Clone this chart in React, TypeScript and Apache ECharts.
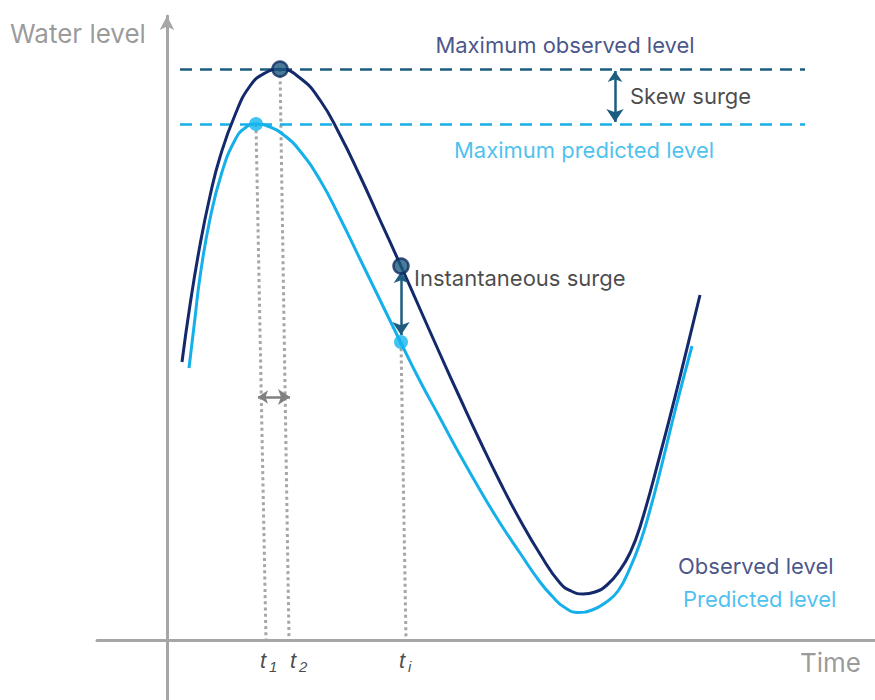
import React, { useEffect, useRef } from "react";
import * as echarts from "echarts";

// Observed water level (time, level)
const observedTime = [1.5, 2.3, 3.3, 4.3, 5.3, 6.8, 8.3, 9.8, 11.3, 13.3, 15.3, 17.3, 19.3, 21.3, 23.3, 25.3, 27.3, 29.3, 31.3, 33.3, 35.3, 37.3, 39.3, 40.5, 41.6, 42.8, 44.0, 45.3, 46.3, 47.3, 49.3, 51.3, 53.3];
const observedLevel = [27.8, 33.5, 39.5, 44.4, 48.3, 52.5, 55.4, 56.7, 57.07, 56.2, 54.0, 50.5, 46.4, 42.0, 37.6, 33.1, 28.6, 24.2, 19.9, 15.8, 12.0, 8.6, 5.7, 4.85, 4.6, 4.8, 5.5, 7.0, 8.7, 11.3, 18.5, 26.3, 34.5];

// Predicted water level (time, level)
const predictedTime = [2.2, 2.8, 3.3, 4.3, 5.5, 6.8, 7.8, 8.9, 10.3, 11.8, 13.3, 15.3, 17.3, 19.3, 21.3, 23.3, 25.3, 27.3, 29.3, 31.3, 33.3, 35.3, 37.3, 38.5, 39.7, 41.1, 42.5, 43.8, 45.1, 46.3, 47.3, 48.3, 49.3, 50.9, 52.5];
const predictedLevel = [27.2, 32.2, 36.3, 42.1, 46.8, 50.0, 51.2, 51.6, 51.3, 50.4, 48.9, 46.0, 42.2, 38.1, 34.0, 29.9, 25.9, 22.2, 18.5, 15.0, 11.7, 8.7, 5.8, 4.4, 3.3, 2.75, 3.0, 3.7, 4.9, 7.2, 9.7, 13.0, 16.8, 23.3, 29.4];

// Key times and levels
const t1 = 8.9; // time of maximum predicted level
const t2 = 11.3; // time of maximum observed level
const ti = 23.4; // instant
const maxObserved = 57.1;
const maxPredicted = 51.6;
const observedAtTi = 37.4;
const predictedAtTi = 29.8;

const labels = {
  waterLevel: "Water level",
  time: "Time",
  maxObs: "Maximum observed level",
  maxPred: "Maximum predicted level",
  skew: "Skew surge",
  instant: "Instantaneous surge",
  obs: "Observed level",
  pred: "Predicted level",
};

const NAVY = "#13296b";
const LIGHT = "#15b0ea";
const TEAL = "#1d5d80";
const GREY = "#a6a6a6";
const FONT = "Inter";

export default function App() {
  const ref = useRef<HTMLDivElement>(null);
  useEffect(() => {
    if (!ref.current) return;
    const chart = echarts.init(ref.current, null, { renderer: "svg" });
    const zip = (a: number[], b: number[]) => a.map((v, i) => [v, b[i]]);

    const textPoint = (x: number, y: number, text: string, color: string, size: number, align: string) => ({
      value: [x, y],
      label: {
        show: true,
        formatter: text,
        position: [0, 0],
        align,
        verticalAlign: "middle",
        color,
        fontSize: size,
        fontFamily: FONT,
      },
    });
    const tLabel = (x: number, sub: string) => ({
      value: [x, -2.0],
      label: {
        show: true,
        formatter: `{t|t}{s|${sub}}`,
        position: [0, 0],
        align: "left",
        verticalAlign: "middle",
        rich: {
          t: { fontSize: 22, fontStyle: "italic", color: "#1a1a1a", fontFamily: "Liberation Sans" },
          s: { fontSize: 15, fontStyle: "italic", color: "#1a1a1a", fontFamily: "Liberation Sans", padding: [12, 0, 0, 3] },
        },
      },
    });

    chart.setOption({
      animation: false,
      grid: { left: 97, right: 0, top: 16, bottom: 0 },
      xAxis: {
        type: "value",
        min: -7,
        max: 70.8,
        axisLine: { show: true, onZero: true, lineStyle: { color: GREY, width: 3 } },
        axisTick: { show: false },
        axisLabel: { show: false },
        splitLine: { show: false },
      },
      yAxis: {
        type: "value",
        min: -6,
        max: 62.4,
        axisLine: {
          show: true,
          onZero: true,
          symbol: ["none", "arrow"],
          symbolSize: [11, 14],
          lineStyle: { color: GREY, width: 3 },
        },
        axisTick: { show: false },
        axisLabel: { show: false },
        splitLine: { show: false },
      },
      series: [
        {
          type: "lines",
          coordinateSystem: "cartesian2d",
          z: 1,
          symbol: "none",
          data: [
            { coords: [[t1, maxPredicted], [t1 + 1.0, 0]] },
            { coords: [[t2, maxObserved], [t2 + 0.9, 0]] },
            { coords: [[ti, predictedAtTi], [ti + 0.5, 0]] },
          ],
          lineStyle: { color: "#a6a6a6", width: 3, type: [3, 3.2], opacity: 1 },
        },
        {
          type: "lines",
          coordinateSystem: "cartesian2d",
          z: 2,
          symbol: "none",
          data: [
            { coords: [[1.3, maxObserved], [63.8, maxObserved]], lineStyle: { color: TEAL } },
            { coords: [[1.3, maxPredicted], [63.8, maxPredicted]], lineStyle: { color: "#18aee8" } },
          ],
          lineStyle: { width: 2.5, type: [12, 8], opacity: 1 },
        },
        {
          type: "line",
          data: zip(predictedTime, predictedLevel),
          smooth: 0.5,
          showSymbol: false,
          z: 3,
          lineStyle: { color: LIGHT, width: 3 },
        },
        {
          type: "line",
          data: zip(observedTime, observedLevel),
          smooth: 0.5,
          showSymbol: false,
          z: 3,
          lineStyle: { color: NAVY, width: 3 },
        },
        {
          type: "lines",
          coordinateSystem: "cartesian2d",
          z: 4,
          symbol: ["arrow", "arrow"],
          symbolSize: [11, 13],
          data: [
            { coords: [[44.8, maxObserved - 0.2], [44.8, maxPredicted + 0.2]] },
            { coords: [[ti, observedAtTi - 0.6], [ti, predictedAtTi + 0.7]] },
          ],
          lineStyle: { color: TEAL, width: 2.5, opacity: 1 },
        },
        {
          type: "lines",
          coordinateSystem: "cartesian2d",
          z: 4,
          symbol: ["arrow", "arrow"],
          symbolSize: [10, 12],
          data: [{ coords: [[9.1, 24.3], [12.3, 24.3]] }],
          lineStyle: { color: "#808080", width: 2.5, opacity: 1 },
        },
        {
          type: "scatter",
          z: 5,
          data: [
            { value: [t1, maxPredicted], symbolSize: 14, itemStyle: { color: "#13b5f0" } },
            { value: [ti, predictedAtTi], symbolSize: 14, itemStyle: { color: "#13b5f0" } },
            { value: [t2, maxObserved], symbolSize: 15, itemStyle: { color: "#1c5a80", borderColor: "#0e2a60", borderWidth: 2.5 } },
            { value: [ti, observedAtTi], symbolSize: 15, itemStyle: { color: "#1c5a80", borderColor: "#0e2a60", borderWidth: 2.5 } },
          ],
        },
        {
          type: "scatter",
          z: 6,
          symbolSize: 0,
          clip: false,
          silent: true,
          data: [
            textPoint(-15.7, 60.7, labels.waterLevel, "#7f7f7f", 26, "left"),
            textPoint(63.3, -2.2, labels.time, "#7f7f7f", 26, "left"),
            textPoint(39.8, 59.5, labels.maxObs, "#18296a", 22, "center"),
            textPoint(41.7, 49.0, labels.maxPred, "#1cb1ea", 22, "center"),
            textPoint(46.3, 54.4, labels.skew, "#1a1a1a", 22, "left"),
            textPoint(24.7, 36.2, labels.instant, "#1a1a1a", 22, "left"),
            textPoint(51.1, 7.4, labels.obs, "#18296a", 22, "left"),
            textPoint(51.6, 4.1, labels.pred, "#1cb1ea", 22, "left"),
            tLabel(9.3, "1"),
            tLabel(12.3, "2"),
            tLabel(23.2, "i"),
          ],
        },
      ],
    });
    return () => chart.dispose();
  }, []);
  return <div ref={ref} style={{ position: "fixed", left: 0, top: 0, width: 875, height: 700, background: "#fff" }} />;
}
